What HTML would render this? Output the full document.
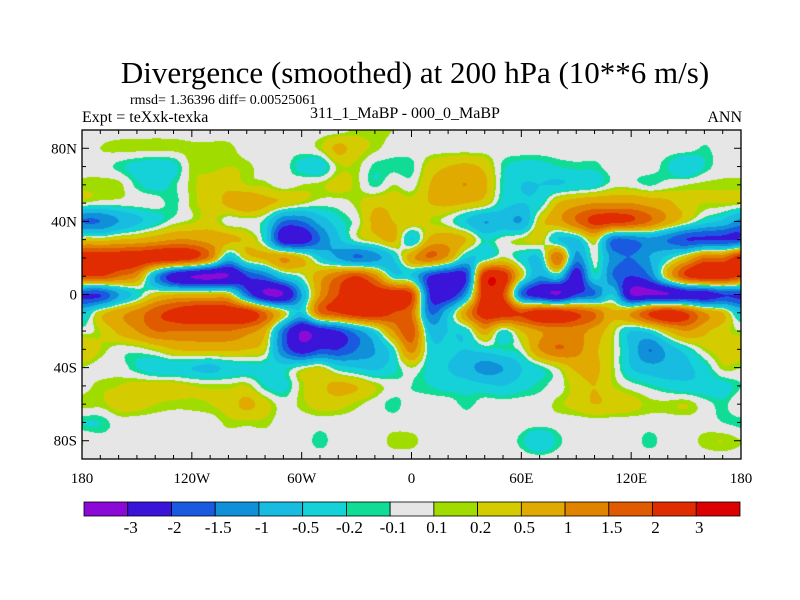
<!DOCTYPE html>
<html><head><meta charset="utf-8"><style>
body{margin:0;background:#fff;}
#wrap{position:relative;width:800px;height:600px;overflow:hidden;font-family:"Liberation Serif",serif;color:#000;}
.t{position:absolute;white-space:nowrap;font-family:"Liberation Serif","Times New Roman",serif;}
</style></head><body>
<div id="wrap">
<div class="t" style="left:130px;top:93px;font-size:14px;">rmsd= 1.36396 diff= 0.00525061</div>
<div class="t" style="left:82px;top:109px;font-size:16px;">Expt = teXxk-texka</div>
<div class="t" style="left:310px;top:105px;font-size:16px;">311_1_MaBP - 000_0_MaBP</div>
<div class="t" style="right:58px;top:109px;font-size:16px;">ANN</div>
<canvas id="map" width="659" height="329" style="position:absolute;left:82px;top:130px;"></canvas>
<svg id="ov" width="800" height="600" style="position:absolute;left:0;top:0;">
<text x="415" y="83" text-anchor="middle" font-family="Liberation Serif, serif" font-size="31">Divergence (smoothed) at 200 hPa (10**6 m/s)</text>
</svg>
</div>
<script>
const levels=[-3,-2,-1.5,-1,-0.5,-0.2,-0.1,0.1,0.2,0.5,1,1.5,2,3];
const levelLabels=["-3","-2","-1.5","-1","-0.5","-0.2","-0.1","0.1","0.2","0.5","1","1.5","2","3"];
const colors=["#8c0ad8","#3a14d8","#1a5ae0","#1090d8","#18bce0","#14d2d8","#10dc96","#e6e6e6","#a0dc00","#d4cc00","#e0aa00","#e08400","#e05a00","#e02c00","#dc0000"];
const lats=[90,80,70,60,50,40,30,20,10,0,-10,-20,-30,-40,-50,-60,-70,-80,-90];
const lons=[-180,-170,-160,-150,-140,-130,-120,-110,-100,-90,-80,-70,-60,-50,-40,-30,-20,-10,0,10,20,30,40,50,60,70,80,90,100,110,120,130,140,150,160,170,180];
const xTickLabels=["180","120W","60W","0","60E","120E","180"];
const yTickLabels=["80N","40N","0","40S","80S"];
const field=[
[0,0,0,0,0,0,0,0,0,0,0,0,0,0,0,0.15,0.15,0.1,0,0,0,0,0,0,0,0,0,0,0,0,0,0,0,0,0,0,0],
[0,0.1,0.15,0.15,0.15,0.15,0.15,0.15,0.15,0,0,0,0,0.15,0.6,0.3,0.15,0,0,0,0,0,0,0,0,0,0,0,0,0,0,0,0,0,-0.12,0,0],
[0,0,-0.15,-0.3,-0.4,-0.3,0.15,0.15,0.2,0.15,0,0,-0.3,-0.4,0.15,0.15,-0.15,-0.15,-0.15,0.3,0.5,0.6,0.4,-0.15,-0.3,-0.3,-0.2,-0.15,-0.15,0,0,0,-0.2,-0.5,-0.2,0,0],
[0.15,0.15,0.15,-0.15,-0.3,-0.15,0.15,0.3,0.4,0.2,0.15,0,0.1,0.15,0.3,0.15,-0.15,0.1,0,0.5,0.8,1.0,0.6,-0.2,-0.5,-0.5,-0.5,-0.4,-0.3,0,0,-0.12,0,0.1,0.15,0.15,0.15],
[0.1,0,0,0,0,-0.15,0.15,0.3,0.6,0.9,0.6,0.4,0.15,0,0,0.15,0.4,0.4,0.3,0.5,0.6,0.5,0.3,-0.3,-0.5,-0.3,0.5,0.8,1.0,1.0,1.0,0.8,0.6,0.3,0.2,0.2,0.15],
[-1.5,-1.5,-1,-0.6,-0.3,0,0.15,0.3,0,0,-0.2,-1.5,-1.5,-0.8,-0.3,0,0.6,0.5,0.4,0.2,0,-0.5,-1,-0.8,-1,0.3,0.8,1.5,2.2,2.2,2,1.5,0.8,0.2,-0.3,-0.6,-1.2],
[0.2,0.3,0.5,0.6,0.8,1.0,1.0,0.8,0.6,0.4,-0.3,-2.5,-2.5,-1.5,-0.6,0,0.3,0.6,-0.5,0.6,0.8,0.5,-0.2,0,0.15,0.3,-0.5,-0.6,0.3,-1.5,-1.5,-1.2,-1.5,-2,-2,-2,-1.8],
[2.5,2.5,2.5,2.5,2.5,2.5,2.2,1.2,-0.6,0.3,0.6,1.0,0.5,-0.4,-1,-1.5,-1.2,-0.5,0.8,1.5,0.8,-0.5,-0.3,0.15,-0.3,-0.5,1.5,-1.2,0,-1.2,-1.5,-1,-0.3,0.5,1.5,1.5,2.5],
[2,2,1.5,1,-1,-2.5,-3,-3.2,-3,-2,-1.5,-0.5,0,0.8,1.5,2,1.2,-0.3,-0.5,-2,-2.5,-2,2.5,2.5,0.3,-1,-0.5,-2.5,-0.3,-1.5,-2,-1.5,0.5,2,2.5,2.5,2],
[-2,-2,-1,-0.3,0.3,0.5,0.5,0.5,0.4,-1.5,-3,-3,-1,1,2,2.5,2.5,2.5,2,-2,-2.5,-1,2.5,2,-1.5,-2.5,-3,-2,-1.5,-0.5,-3,-3,-3,-2.5,-2.5,-2,-2],
[-0.5,0.3,0.8,1.2,1.8,2.2,2.5,2.5,2.5,2.5,1.5,0.3,-0.5,1.5,2,2.5,2.5,2,1.5,-1.5,-0.6,1.0,2.5,2.5,2,2.5,2.5,2,1.5,0.6,1.0,2,2.5,2,1,0.5,-0.5],
[0,0.2,0.6,1.0,1.5,1.5,1.5,1.5,1.5,1.2,0.6,-1.5,-3,-2.5,-2,-1.2,-0.3,1,1.8,-0.6,-0.5,-0.3,0.8,-0.2,0.5,1.0,1.2,1.2,0.8,0.2,-0.5,-0.3,0.5,1.0,0.6,0.3,0.1],
[0.5,0.2,0,0,0.2,0.5,0.6,0.6,0.6,0.5,0.2,-1.5,-2.5,-2,-2,-1.5,-1,-0.2,1.2,-0.3,-0.4,-0.5,-0.3,-0.2,0,1.0,1.5,1.2,0.6,0.15,-0.6,-1.5,-0.8,-0.3,0.15,0.3,0.3],
[0.1,0,0,-0.2,-0.4,-0.4,-0.5,-0.6,-0.4,-0.3,-0.3,-0.3,0,0.2,-0.3,-0.5,-0.6,-0.3,0.1,-0.3,-0.5,-0.8,-1.2,-1.0,-0.5,-0.2,0.15,0.6,0.6,0.15,-0.5,-0.8,-0.8,-0.6,-0.3,0.15,0.1],
[0,0.15,0.2,0.3,0.3,0.3,0.2,0.15,0.15,0.2,-0.2,-0.3,0.15,0.4,0.6,0.5,0.2,0,-0.1,-0.2,-0.3,-0.3,-0.4,-0.5,-0.3,-0.15,0,0.3,0.5,0.2,0,-0.15,-0.3,-0.4,-0.4,-0.3,-0.1],
[0.15,0.15,0.3,0.3,0.2,0.15,0.15,0.2,0.3,0.6,0.3,0,0.15,0.3,0.3,0.15,0,-0.15,0,0,0,-0.15,0,0,0,0,0.15,0.3,0.5,0.4,0.3,0.15,0.15,0.2,0,-0.15,0.1],
[-0.2,-0.2,0,0,0,0,0,0,0.15,0.15,0.15,0,0,0,0,0,0,0,0,0,0,0,0,0,0,0,0,0,0,0,0,0,0,0,0,-0.1,-0.15],
[0.1,0,0,0,0,0,0,0,0,0,0,0,0,-0.15,0,0,0,0.15,0.15,0,0,0,0,0,-0.15,-0.5,-0.15,0,0,0,0,-0.15,0,0,0.15,0.2,0.1],
[0,0,0,0,0,0,0,0,0,0,0,0,0,0,0,0,0,0,0,0,0,0,0,0,0,0,0,0,0,0,0,0,0,0,0,0,0]
];
const X0=82,X1=741,Y0=130,Y1=459;
function xScale(lon){return X0+(lon+180)/360*(X1-X0);}
function yScale(lat){return Y0+(90-lat)/180*(Y1-Y0);}
function hex(c){return [parseInt(c.slice(1,3),16),parseInt(c.slice(3,5),16),parseInt(c.slice(5,7),16)];}
function colorIndex(v){let i=0;while(i<levels.length&&v>=levels[i])i++;return i;}
function cr(p0,p1,p2,p3,t){return 0.5*((2*p1)+(-p0+p2)*t+(2*p0-5*p1+4*p2-p3)*t*t+(-p0+3*p1-3*p2+p3)*t*t*t);}
(function(){
  const cv=document.getElementById('map');const ctx=cv.getContext('2d');
  const W=cv.width,H=cv.height;const img=ctx.createImageData(W,H);
  const rgb=colors.map(hex);
  const nLat=lats.length,nLon=lons.length;
  function g(j,i){j=Math.max(0,Math.min(nLat-1,j));if(i<0)i+=nLon-1;if(i>nLon-1)i-=nLon-1;return field[j][i];}
  for(let py=0;py<H;py++){
    const lat=90-(py+0.5)/H*180;
    const fy=(lats[0]-lat)/(lats[0]-lats[nLat-1])*(nLat-1);
    const j=Math.min(Math.floor(fy),nLat-2);const ty=fy-j;
    for(let px=0;px<W;px++){
      const lon=-180+(px+0.5)/W*360;
      const fx=(lon-lons[0])/(lons[nLon-1]-lons[0])*(nLon-1);
      const i=Math.min(Math.floor(fx),nLon-2);const tx=fx-i;
      const r=[];
      for(let dj=-1;dj<=2;dj++){r.push(cr(g(j+dj,i-1),g(j+dj,i),g(j+dj,i+1),g(j+dj,i+2),tx));}
      const v=cr(r[0],r[1],r[2],r[3],ty);
      const c=rgb[colorIndex(v)];const k=(py*W+px)*4;
      img.data[k]=c[0];img.data[k+1]=c[1];img.data[k+2]=c[2];img.data[k+3]=255;
    }
  }
  ctx.putImageData(img,0,0);
})();
(function(){
  const NS='http://www.w3.org/2000/svg';const svg=document.getElementById('ov');
  function mk(tag,attrs){const e=document.createElementNS(NS,tag);for(const k in attrs)e.setAttribute(k,attrs[k]);svg.appendChild(e);return e;}
  const frame=mk('rect',{x:X0,y:Y0,width:X1-X0,height:Y1-Y0,fill:'none',stroke:'#000','stroke-width':1.3});
  
  
  for(let lon=-180;lon<=180;lon+=10){
    const x=xScale(lon);const major=lon%60===0;const L=major?7:4;
    mk('line',{x1:x,y1:Y1,x2:x,y2:Y1-L,stroke:'#000'});mk('line',{x1:x,y1:Y0,x2:x,y2:Y0+L,stroke:'#000'});
  }
  for(let lat=-90;lat<=90;lat+=10){
    const y=yScale(lat);const major=lat%40===0;const L=major?7:4;
    mk('line',{x1:X0,y1:y,x2:X0+L,y2:y,stroke:'#000'});mk('line',{x1:X1,y1:y,x2:X1-L,y2:y,stroke:'#000'});
  }
  xTickLabels.forEach((s,i)=>{
    const t=mk('text',{x:xScale(-180+i*60),y:483,'text-anchor':'middle','font-family':'Liberation Serif, serif','font-size':15});
    t.textContent=s;
    
    
  });
  yTickLabels.forEach((s,i)=>{
    const t=mk('text',{x:X0-5,y:yScale(80-i*40)+5,'text-anchor':'end','font-family':'Liberation Serif, serif','font-size':15});
    t.textContent=s;
    
    
  });
  const cx0=84,cx1=740,cy=502,ch=14,bw=(cx1-cx0)/colors.length;
  colors.forEach((c,i)=>{
    const r=mk('rect',{x:cx0+i*bw,y:cy,width:bw,height:ch,fill:c,stroke:'#000','stroke-width':0.8});
    
    
  });
  levelLabels.forEach((s,i)=>{
    const t=mk('text',{x:cx0+(i+1)*bw+3,y:533,'text-anchor':'middle','font-family':'Liberation Serif, serif','font-size':17});
    t.textContent=s;
    
    
  });
})();
</script>
</body></html>
